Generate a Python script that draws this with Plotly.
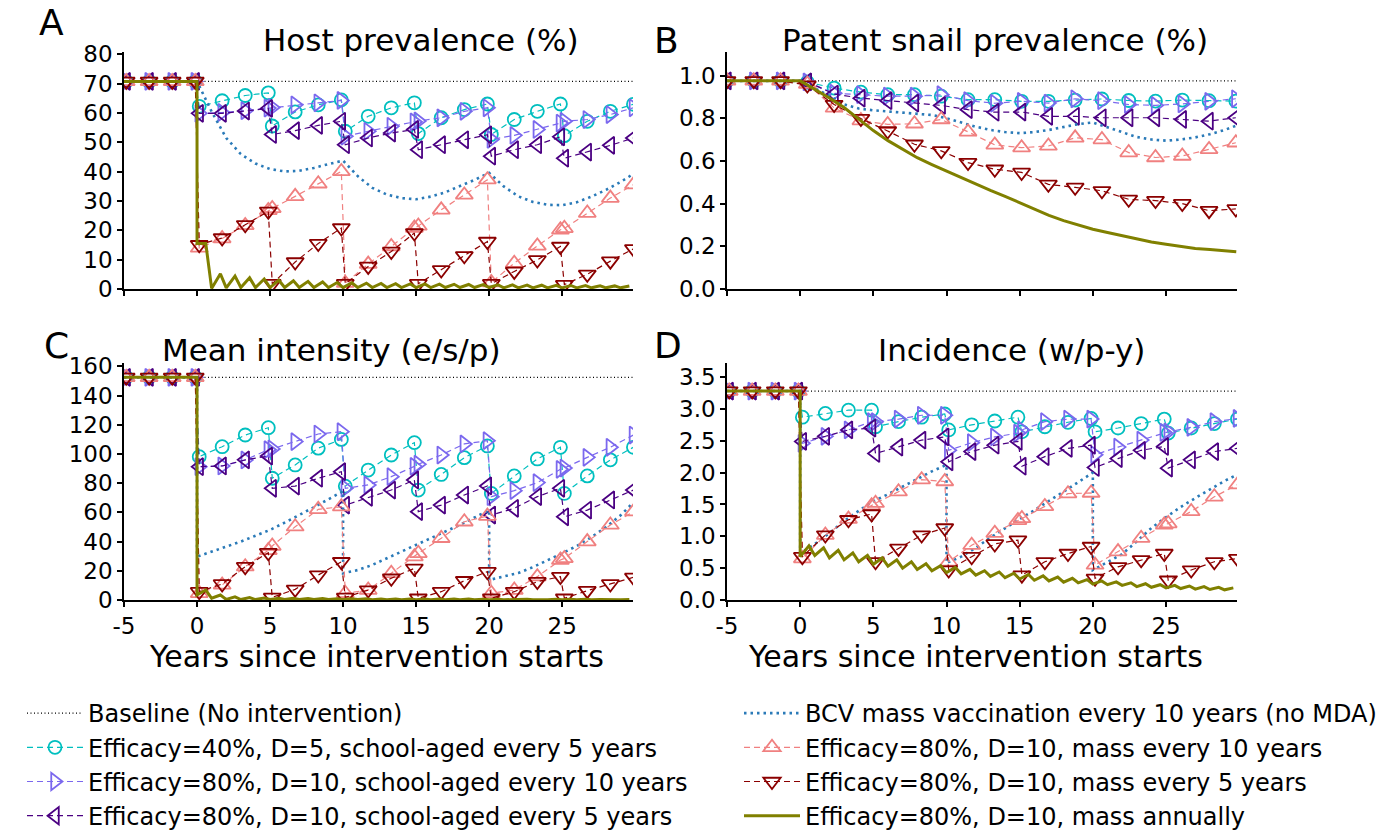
import plotly.graph_objects as go

W, H = 1399, 835

# ------------------------------------------------------------------ data
# marker sample times (years since intervention starts)
t_main = [-4.85, -3.28, -1.7, -0.12,
          0.15, 1.72, 3.3, 4.88,
          5.15, 6.72, 8.3, 9.88,
          10.15, 11.72, 13.3, 14.88,
          15.15, 16.72, 18.3, 19.88,
          20.15, 21.72, 23.3, 24.88,
          25.15, 26.72, 28.3, 29.88]
t_snail = [-5.0, -3.17, -1.34, 0.49, 2.32, 4.15, 5.98, 7.81, 9.64, 11.47,
           13.3, 15.13, 16.96, 18.79, 20.62, 22.45, 24.28, 26.11, 27.94, 29.77]
t_bcv = [-5, 0, 0, 1, 2, 3, 4, 5, 6, 7, 8, 9, 10, 10, 11, 12, 13, 14, 15, 16, 17,
         18, 19, 20, 20, 21, 22, 23, 24, 25, 26, 27, 28, 29, 29.8]
t_base = [-5, 29.9]
t_ann_snail = [-5, 0, 1, 2, 3, 4, 5, 6, 7, 8, 9, 10, 11, 12, 13, 14, 15, 16, 17,
               18, 19, 20, 21, 22, 23, 24, 25, 26, 27, 28, 29, 29.8]
ann_years = [0, 1, 2, 3, 4, 5, 6, 7, 8, 9, 10, 11, 12, 13, 14, 15, 16, 17, 18, 19,
             20, 21, 22, 23, 24, 25, 26, 27, 28, 29]

# ---- A: host prevalence (%)
base_A = 70.8
A_c40_s5 = [70.8, 70.8, 70.8, 70.8, 62.3, 64.2, 66.0, 66.9, 55.6, 60.4, 62.8, 64.5,
            53.8, 58.9, 61.8, 63.5, 53.0, 58.4, 61.2, 63.1, 52.7, 57.8, 60.6, 63.1,
            52.3, 57.2, 60.6, 63.0]
A_e80_s10 = [70.8, 70.8, 70.8, 70.8, 59.9, 60.2, 60.8, 61.7, 61.9, 62.8, 63.5, 64.3,
             52.1, 53.8, 55.5, 57.0, 57.3, 58.4, 60.6, 61.8, 51.0, 52.4, 54.4, 56.6,
             57.2, 57.8, 59.5, 61.8]
A_e80_s5 = [70.8, 70.8, 70.8, 70.8, 59.9, 59.9, 60.7, 61.6, 52.7, 54.0, 55.8, 57.2,
            49.2, 51.5, 53.2, 54.4, 47.5, 49.2, 50.9, 52.6, 45.3, 47.5, 49.2, 51.9,
            44.6, 46.7, 49.0, 51.5]
A_bcv = [70.8, 70.8, 70.8, 60.5, 51.5, 46.0, 42.8, 40.9, 40.1, 40.3, 41.3, 42.6, 43.8,
         43.8, 38.5, 34.5, 32.2, 31.0, 30.6, 31.5, 33.0, 35.0, 37.2, 39.6,
         39.6, 35.0, 31.6, 29.7, 28.7, 28.6, 29.6, 31.5, 33.8, 36.5, 39.0]
A_m10 = [70.8, 70.8, 70.8, 70.8, 14.0, 17.2, 21.7, 26.8, 27.5, 31.6, 35.9, 40.1,
         2.0, 8.5, 14.5, 20.8, 21.5, 27.0, 32.1, 37.3, 2.2, 8.8, 14.7, 20.2,
         20.7, 25.9, 31.0, 35.6]
A_m5 = [70.8, 70.8, 70.8, 70.8, 15.1, 17.4, 21.9, 26.5, 1.8, 9.2, 15.5, 20.8,
        1.8, 7.7, 12.8, 19.1, 1.8, 6.5, 11.3, 16.2, 1.8, 6.0, 9.9, 14.5,
        1.5, 5.0, 9.5, 13.7]
A_ann_low = [15.5, 0.2, 0.4, 0.5, 0.5, 0.5, 0.5, 0.5, 0.5, 0.5, 0.5, 0.5, 0.5, 0.5, 0.5,
             0.5, 0.5, 0.5, 0.5, 0.5, 0.5, 0.4, 0.4, 0.4, 0.4, 0.4, 0.4, 0.4, 0.4, 0.4]
A_ann_peak = [15.5, 5.2, 4.4, 3.8, 3.4, 3.0, 2.8, 2.6, 2.4, 2.2, 2.1, 2.0, 1.9, 1.8, 1.75,
              1.7, 1.65, 1.6, 1.55, 1.5, 1.45, 1.4, 1.35, 1.3, 1.25, 1.2, 1.15, 1.1, 1.05, 1.0]

# ---- B: patent snail prevalence (%)
base_B = 0.975
B_c40_s5 = [0.975, 0.975, 0.975, 0.969, 0.941, 0.922, 0.91, 0.91, 0.903, 0.887,
            0.887, 0.879, 0.879, 0.885, 0.89, 0.883, 0.88, 0.885, 0.882, 0.88]
B_e80_s10 = [0.975, 0.975, 0.975, 0.97, 0.917, 0.91, 0.903, 0.903, 0.91, 0.882,
             0.87, 0.879, 0.871, 0.891, 0.882, 0.864, 0.86, 0.867, 0.879, 0.891]
B_e80_s5 = [0.975, 0.975, 0.975, 0.97, 0.913, 0.894, 0.882, 0.871, 0.86, 0.84,
            0.828, 0.829, 0.809, 0.809, 0.802, 0.802, 0.802, 0.794, 0.786, 0.802]
B_bcv = [0.975, 0.975, 0.975, 0.94, 0.905, 0.865, 0.845, 0.837, 0.832, 0.828, 0.823, 0.815,
         0.80, 0.80, 0.78, 0.76, 0.745, 0.735, 0.73, 0.735, 0.745, 0.76, 0.772, 0.78,
         0.78, 0.757, 0.733, 0.712, 0.70, 0.695, 0.70, 0.71, 0.725, 0.745, 0.765]
B_m10 = [0.975, 0.975, 0.975, 0.96, 0.848, 0.789, 0.771, 0.774, 0.794, 0.736,
         0.675, 0.662, 0.67, 0.708, 0.70, 0.639, 0.616, 0.623, 0.654, 0.685]
B_m5 = [0.975, 0.975, 0.975, 0.955, 0.864, 0.798, 0.74, 0.678, 0.647, 0.592,
        0.561, 0.546, 0.49, 0.476, 0.46, 0.42, 0.414, 0.40, 0.367, 0.375]
B_ann = [0.975, 0.975, 0.935, 0.895, 0.85, 0.795, 0.742, 0.695, 0.655, 0.615, 0.583,
         0.553, 0.52, 0.49, 0.462, 0.434, 0.405, 0.375, 0.345, 0.32, 0.30, 0.28,
         0.265, 0.25, 0.235, 0.22, 0.21, 0.20, 0.19, 0.185, 0.178, 0.175]

# ---- C: mean intensity (e/s/p)
base_C = 152.5
C_c40_s5 = [152.5, 152.5, 152.5, 152.5, 98.2, 105, 113, 118, 83.4, 92.5, 104, 110,
            78, 89, 99.3, 107.8, 75.3, 86, 97.5, 105.5, 73, 85, 96.6, 104.6,
            73, 85, 96, 104.6]
C_e80_s10 = [152.5, 152.5, 152.5, 152.5, 91.3, 91.8, 95.9, 103, 103.5, 108.5, 113.7, 115.3,
             76.5, 78.8, 84.5, 91.5, 93, 99.3, 106.9, 109.1, 70.8, 74.9, 80.4, 89.5,
             90.4, 97.7, 104.6, 113]
C_e80_s5 = [152.5, 152.5, 152.5, 152.5, 91.3, 91.8, 96, 98.6, 76.5, 78, 83.4, 87.9,
            65, 70.3, 75.3, 82.2, 60.5, 65, 71.9, 78.1, 58.2, 62.8, 70.8, 76.5,
            57, 61.6, 68.5, 75.3]
C_bcv = [152.5, 152.5, 29.7, 33, 36.5, 40, 44, 48, 53, 58, 63.5, 69, 74.5,
         18.3, 20.5, 24, 28.5, 33, 37.5, 42, 46.5, 51.5, 56.5, 61.6,
         13.7, 16, 18.5, 22.5, 27, 32, 37, 43, 50, 58, 66]
C_m10 = [152.5, 152.5, 152.5, 152.5, 4.6, 10.3, 22.8, 34, 37, 50.2, 62.1, 63.9,
         4.6, 6.8, 18.3, 29.7, 32, 42.3, 53.6, 57.5, 4.6, 6.8, 16, 27.4,
         28.5, 40, 51.4, 60.5]
C_m5 = [152.5, 152.5, 152.5, 152.5, 5.7, 11, 22.8, 32.4, 1.8, 7.3, 17.1, 26.2,
        1.8, 6.8, 14.9, 21.7, 1.2, 5.7, 13.2, 19.4, 1.2, 5.7, 12.6, 16,
        1.2, 6.4, 11, 15.5]
C_ann_low = [3.4, 1.2, 0.4, 0.3, 0.3, 0.3, 0.3, 0.3, 0.3, 0.3, 0.3, 0.3, 0.2, 0.2, 0.2,
             0.2, 0.2, 0.2, 0.2, 0.2, 0.2, 0.2, 0.2, 0.2, 0.2, 0.2, 0.2, 0.2, 0.2, 0.2]
C_ann_peak = [6.8, 3.4, 2.2, 1.7, 1.4, 1.2, 1.1, 1.0, 0.95, 0.9, 0.85, 0.8, 0.75, 0.7, 0.7,
              0.65, 0.65, 0.6, 0.6, 0.55, 0.55, 0.5, 0.5, 0.5, 0.45, 0.45, 0.45, 0.4, 0.4, 0.4]

# ---- D: incidence (w/p-y)
base_D = 3.28
D_c40_s5 = [3.28, 3.28, 3.28, 3.28, 2.87, 2.93, 2.98, 2.98, 2.72, 2.80, 2.87, 2.92,
            2.67, 2.75, 2.81, 2.87, 2.64, 2.72, 2.79, 2.85, 2.64, 2.70, 2.77, 2.84,
            2.62, 2.70, 2.77, 2.84]
D_e80_s10 = [3.28, 3.28, 3.28, 3.28, 2.46, 2.57, 2.67, 2.80, 2.80, 2.84, 2.90, 2.90,
             2.35, 2.47, 2.56, 2.62, 2.67, 2.80, 2.84, 2.84, 2.28, 2.40, 2.51, 2.63,
             2.64, 2.71, 2.80, 2.85]
D_e80_s5 = [3.28, 3.28, 3.28, 3.28, 2.49, 2.57, 2.67, 2.70, 2.30, 2.40, 2.51, 2.56,
            2.17, 2.33, 2.43, 2.49, 2.10, 2.25, 2.38, 2.43, 2.08, 2.22, 2.35, 2.41,
            2.07, 2.20, 2.33, 2.38]
D_bcv = [3.28, 3.28, 0.73, 0.88, 1.05, 1.24, 1.40, 1.55, 1.66, 1.78, 1.90, 2.02, 2.12,
         0.58, 0.68, 0.82, 0.98, 1.13, 1.27, 1.41, 1.55, 1.70, 1.85, 2.0,
         0.47, 0.60, 0.72, 0.92, 1.13, 1.30, 1.46, 1.60, 1.73, 1.87, 1.96]
D_m10 = [3.28, 3.28, 3.28, 3.28, 0.65, 1.02, 1.27, 1.48, 1.52, 1.70, 1.89, 1.86,
         0.60, 0.86, 1.05, 1.25, 1.28, 1.47, 1.67, 1.68, 0.55, 0.76, 0.97, 1.18,
         1.20, 1.39, 1.62, 1.81]
D_m5 = [3.28, 3.28, 3.28, 3.28, 0.68, 1.02, 1.26, 1.35, 0.60, 0.81, 1.02, 1.13,
        0.47, 0.68, 0.88, 0.94, 0.39, 0.60, 0.73, 0.84, 0.34, 0.52, 0.63, 0.73,
        0.31, 0.47, 0.60, 0.65]
D_ann_low = [0.68, 0.70, 0.66, 0.63, 0.60, 0.56, 0.53, 0.50, 0.48, 0.46, 0.43, 0.41, 0.39,
             0.37, 0.35, 0.33, 0.31, 0.30, 0.28, 0.27, 0.25, 0.24, 0.23, 0.21, 0.20,
             0.19, 0.18, 0.17, 0.165, 0.16]
D_ann_peak = [0.85, 0.82, 0.78, 0.74, 0.70, 0.66, 0.63, 0.60, 0.57, 0.54, 0.51, 0.48, 0.46,
              0.44, 0.42, 0.40, 0.38, 0.36, 0.34, 0.32, 0.30, 0.285, 0.27, 0.255, 0.24,
              0.23, 0.22, 0.21, 0.20, 0.19]

names = ["Baseline (No intervention)",
         "Efficacy=40%, D=5, school-aged every 5 years",
         "Efficacy=80%, D=10, school-aged every 10 years",
         "Efficacy=80%, D=10, school-aged every 5 years",
         "BCV mass vaccination every 10 years (no MDA)",
         "Efficacy=80%, D=10, mass every 10 years",
         "Efficacy=80%, D=10, mass every 5 years",
         "Efficacy=80%, D=10, mass annually"]

# ------------------------------------------------------------------ styles
C_CYAN = "#00BFBF"
C_MSB = "#7B68EE"
C_IND = "#4B0082"
C_BCV = "#2A7AB8"
C_LCOR = "#F08080"
C_DRED = "#8B0000"
C_OLIVE = "#808000"
FONT = "DejaVu Sans"


def px_x(p):
    return p / W


def px_y(p):
    return 1 - p / H


def annual_path(base, lows, peaks):
    xs, ys = [-5, 0], [base, base]
    for k, lo, pk in zip(ann_years, lows, peaks):
        xs += [k, k + 0.6]
        ys += [lo, pk]
    return xs, ys


fig = go.Figure()


def add_panel(ax, tm, base, s1, s2, s3, bcv_t, bcv, s5, s6, ann_x, ann_y, first):
    xa = "x" if ax == 1 else f"x{ax}"
    ya = "y" if ax == 1 else f"y{ax}"
    common = dict(xaxis=xa, yaxis=ya, cliponaxis=True)
    fig.add_trace(go.Scatter(x=t_base, y=[base, base], mode="lines", name=names[0],
                             line=dict(color="black", width=1.2, dash="1px,2.5px"),
                             showlegend=first, legend="legend", **common))
    mk = [(s1, C_CYAN, "circle-open", 13, names[1]),
          (s2, C_MSB, "triangle-right-open", 15, names[2]),
          (s3, C_IND, "triangle-left-open", 15, names[3])]
    for y, col, sym, sz, nm in mk:
        fig.add_trace(go.Scatter(x=tm, y=y, mode="lines+markers", name=nm,
                                 line=dict(color=col, width=1.2, dash="6px,4px"),
                                 marker=dict(symbol=sym, size=sz, color=col,
                                             line=dict(width=1.8, color=col)),
                                 showlegend=first, legend="legend", **common))
    fig.add_trace(go.Scatter(x=bcv_t, y=bcv, mode="lines", name=names[4],
                             line=dict(color=C_BCV, width=2.6, dash="2.5px,4px"),
                             showlegend=first, legend="legend2", **common))
    mk2 = [(s5, C_LCOR, "triangle-up-open", 15, names[5]),
           (s6, C_DRED, "triangle-down-open", 15, names[6])]
    for y, col, sym, sz, nm in mk2:
        fig.add_trace(go.Scatter(x=tm, y=y, mode="lines+markers", name=nm,
                                 line=dict(color=col, width=1.2, dash="6px,4px"),
                                 marker=dict(symbol=sym, size=sz, color=col,
                                             line=dict(width=1.8, color=col)),
                                 showlegend=first, legend="legend2", **common))
    fig.add_trace(go.Scatter(x=ann_x, y=ann_y, mode="lines", name=names[7],
                             line=dict(color=C_OLIVE, width=3),
                             showlegend=first, legend="legend2", **common))


axA_x, axA_y = annual_path(base_A, A_ann_low, A_ann_peak)
axC_x, axC_y = annual_path(base_C, C_ann_low, C_ann_peak)
axD_x, axD_y = annual_path(base_D, D_ann_low, D_ann_peak)

add_panel(1, t_main, base_A, A_c40_s5, A_e80_s10, A_e80_s5, t_bcv, A_bcv, A_m10, A_m5,
          axA_x, axA_y, True)
add_panel(2, t_snail, base_B, B_c40_s5, B_e80_s10, B_e80_s5, t_bcv, B_bcv, B_m10, B_m5,
          t_ann_snail, B_ann, False)
add_panel(3, t_main, base_C, C_c40_s5, C_e80_s10, C_e80_s5, t_bcv, C_bcv, C_m10, C_m5,
          axC_x, axC_y, False)
add_panel(4, t_main, base_D, D_c40_s5, D_e80_s10, D_e80_s5, t_bcv, D_bcv, D_m10, D_m5,
          axD_x, axD_y, False)

# ------------------------------------------------------------------ axes
x_ticks = [-5, 0, 5, 10, 15, 20, 25]
x_ticktext = ["-5", "0", "5", "10", "15", "20", "25"]
xdom_L = [px_x(124), px_x(633)]
xdom_R = [px_x(727), px_x(1237)]
ydom_T = [px_y(289), px_y(51.5)]
ydom_B = [px_y(600), px_y(362.5)]

axis_common = dict(showline=True, linecolor="black", linewidth=1.6, ticks="outside",
                   ticklen=5, tickwidth=1.6, tickcolor="black", showgrid=False,
                   zeroline=False, automargin=False,
                   tickfont=dict(family=FONT, size=23, color="black"))


def xax(dom, anchor, labels):
    return dict(domain=dom, anchor=anchor, range=[-5, 29.85], tickvals=x_ticks,
                ticktext=x_ticktext, showticklabels=labels, **axis_common)


def yax(dom, anchor, rng, dtick, fmt):
    return dict(domain=dom, anchor=anchor, range=rng, dtick=dtick, tick0=0,
                tickformat=fmt, **axis_common)


fig.update_layout(
    width=W, height=H,
    margin=dict(l=0, r=0, t=0, b=0, autoexpand=False),
    paper_bgcolor="white", plot_bgcolor="white",
    font=dict(family=FONT, color="black"),
    xaxis=xax(xdom_L, "y", False),
    yaxis=yax(ydom_T, "x", [0, 81], 10, "d"),
    xaxis2=xax(xdom_R, "y2", False),
    yaxis2=yax(ydom_T, "x2", [0, (289 - 51.5) / 213.5], 0.2, ".1f"),
    xaxis3=xax(xdom_L, "y3", True),
    yaxis3=yax(ydom_B, "x3", [0, (600 - 362.5) / 1.46], 20, "d"),
    xaxis4=xax(xdom_R, "y4", True),
    yaxis4=yax(ydom_B, "x4", [0, (600 - 362.5) / 63.7], 0.5, ".1f"),
    legend=dict(x=px_x(22), y=px_y(691), xanchor="left", yanchor="top",
                font=dict(family=FONT, size=24, color="black"), itemwidth=56,
                bgcolor="rgba(0,0,0,0)", tracegroupgap=0),
    legend2=dict(x=px_x(739), y=px_y(691), xanchor="left", yanchor="top",
                 font=dict(family=FONT, size=24, color="black"), itemwidth=56,
                 bgcolor="rgba(0,0,0,0)", tracegroupgap=0),
)

ann = []
for txt, x, y, size in [("A", 52, 22, 36), ("B", 666, 40, 36), ("C", 57, 345, 36),
                        ("D", 668, 345, 36),
                        ("Host prevalence (%)", 421, 40, 31),
                        ("Patent snail prevalence (%)", 995, 40, 31),
                        ("Mean intensity (e/s/p)", 331, 350, 31),
                        ("Incidence (w/p-y)", 1011, 350, 31),
                        ("Years since intervention starts", 376, 656, 30),
                        ("Years since intervention starts", 975, 656, 30)]:
    ann.append(dict(text=txt, x=px_x(x), y=px_y(y), xref="paper", yref="paper",
                    xanchor="center", yanchor="middle", showarrow=False,
                    font=dict(family=FONT, size=size, color="black")))
fig.update_layout(annotations=ann)

fig.write_html("out.html")
